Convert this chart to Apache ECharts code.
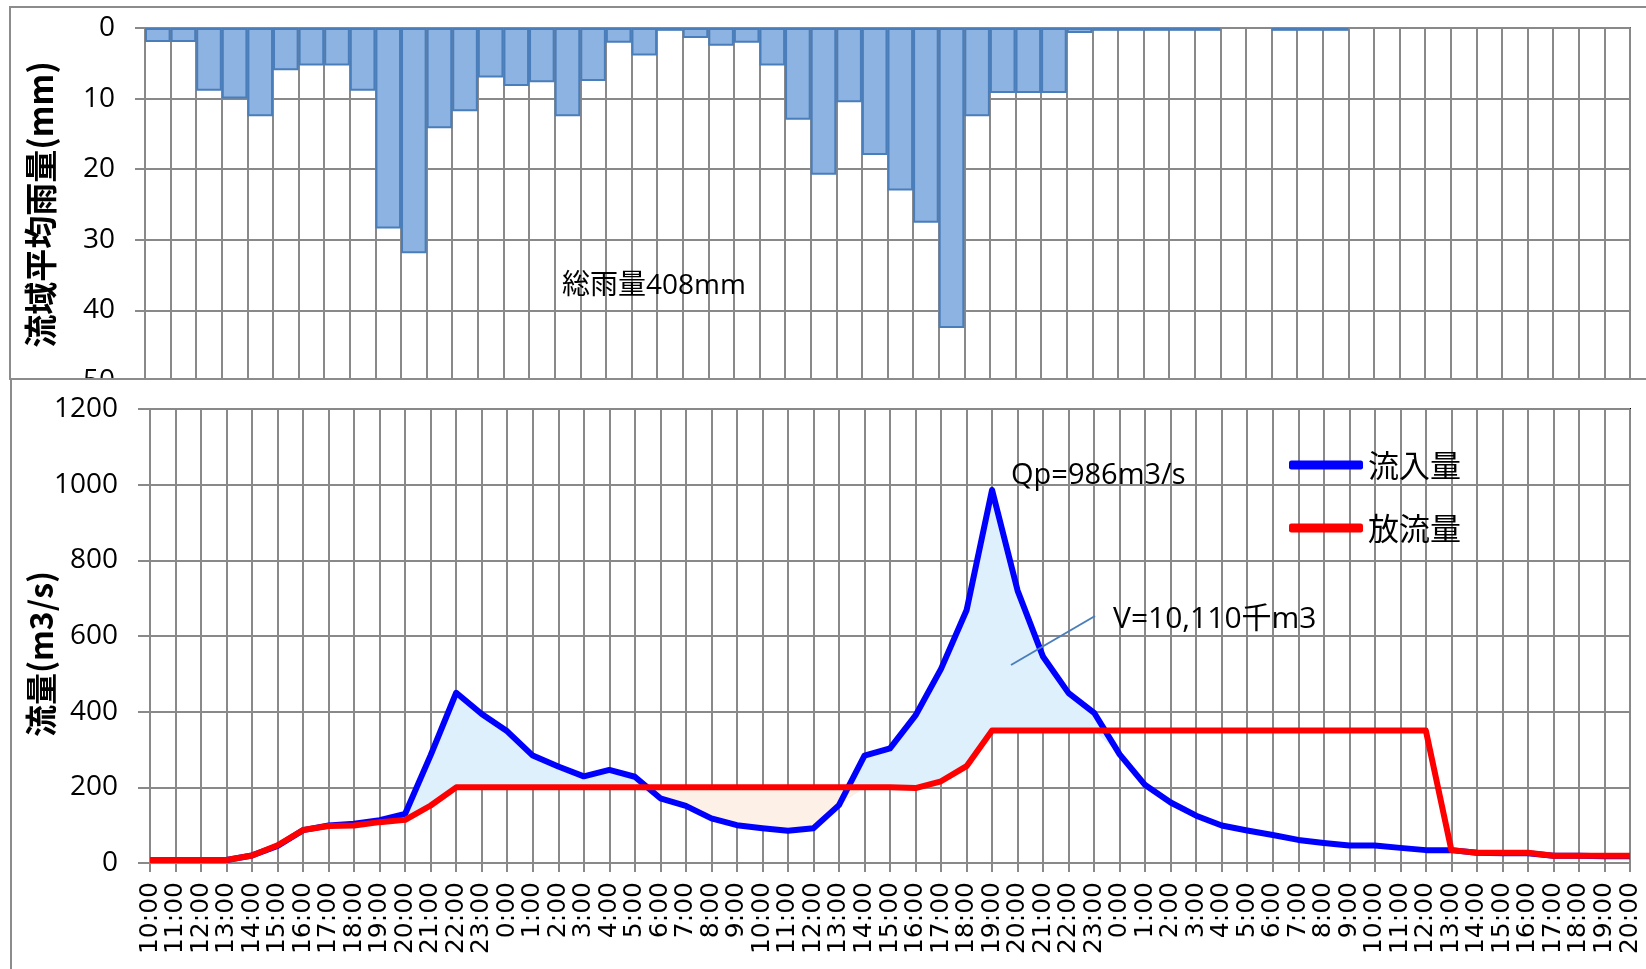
<!DOCTYPE html>
<html>
<head>
<meta charset="utf-8">
<script src="https://cdn.jsdelivr.net/npm/echarts@6/dist/echarts.min.js"></script>
<style>
html,body{margin:0;padding:0;background:#fff;}
#c{width:1646px;height:969px;}
</style>
</head>
<body>
<div id="c"></div>
<script>
// Time labels (59 hourly points)
const timeLabels = [
  '10:00','11:00','12:00','13:00','14:00','15:00','16:00','17:00','18:00','19:00','20:00','21:00','22:00','23:00',
  '0:00','1:00','2:00','3:00','4:00','5:00','6:00','7:00','8:00','9:00','10:00','11:00','12:00','13:00','14:00','15:00','16:00','17:00','18:00','19:00','20:00','21:00','22:00','23:00',
  '0:00','1:00','2:00','3:00','4:00','5:00','6:00','7:00','8:00','9:00','10:00','11:00','12:00','13:00','14:00','15:00','16:00','17:00','18:00','19:00','20:00'
];
// Basin average hourly rainfall (mm), 58 hourly intervals
const rainfall = [
  2.0, 2.0, 8.9, 10.0, 12.5, 6.0, 5.3, 5.3, 8.9, 28.4, 31.9, 14.2, 11.8, 7.0, 8.2, 7.7, 12.5, 7.5, 2.1,
  3.9, 0.4, 1.4, 2.5, 2.1, 5.3, 13.0, 20.8, 10.5, 18.0, 23.0, 27.6, 42.5, 12.5, 9.2, 9.2, 9.2, 0.7, 0.4,
  0.4, 0.4, 0.4, 0.4, 0, 0, 0.4, 0.4, 0.4,
  0, 0, 0, 0, 0, 0, 0, 0, 0, 0, 0
];
// Inflow (m3/s)
const inflow = [
  8, 8, 8, 8, 20, 45, 87, 99, 104, 113, 130, 285, 450, 394, 348, 284, 255, 229, 246, 228, 171, 151, 118, 100, 92, 85, 92, 153,
  284, 303, 390, 513, 668, 986, 720, 545, 449, 397, 287, 206, 160, 125, 99, 86, 74, 61, 53, 46, 46, 40, 34, 34,
  27, 26, 26, 19, 19, 18, 18
];
// Outflow (m3/s)
const outflow = [
  8, 8, 8, 8, 20, 47, 87, 98, 99, 108, 114, 152, 200, 200, 200, 200, 200, 200, 200, 200, 200, 200, 200, 200, 200, 200, 200, 200,
  200, 200, 198, 216, 256, 350, 350, 350, 350, 350, 350, 350, 350, 350, 350, 350, 350, 350, 350, 350, 350, 350, 350, 34,
  27, 27, 27, 19, 19, 19, 19
];
const legendNames = ['流入量', '放流量'];
// shaded release (outflow > inflow) period: first index .. last index
const releaseShade = [19, 28];

const NUM = "'Open Sans', 'Noto Sans CJK JP', sans-serif";
const JP = "'Noto Sans CJK JP', sans-serif";
const GRID = '#898989';

const base = inflow.map((v, i) => Math.min(v, outflow[i]));
const storeDiff = inflow.map((v, i) => Math.max(v - outflow[i], 0));
const releaseDiff = inflow.map((v, i) =>
  (i >= releaseShade[0] && i <= releaseShade[1]) ? Math.max(outflow[i] - v, 0) : 0);

const chart = echarts.init(document.getElementById('c'), null, {renderer: 'canvas'});
const option = {
  animation: false,
  backgroundColor: '#fff',
  textStyle: {fontFamily: NUM},
  grid: [
    {left: 145, right: 16, top: 28, bottom: 588, show: true, borderColor: '#000', borderWidth: 2, z: 0},
    {left: 150, right: 16, top: 409, bottom: 106, show: true, borderColor: '#000', borderWidth: 2, z: 3}
  ],
  xAxis: [
    {
      gridIndex: 0, type: 'category', data: timeLabels.slice(0, rainfall.length), position: 'top', boundaryGap: true,
      axisLine: {onZero: false, lineStyle: {color: GRID, width: 2}},
      axisTick: {show: false}, axisLabel: {show: false},
      splitLine: {show: true, interval: 0, lineStyle: {color: GRID, width: 2}},
      z: 0
    },
    {
      gridIndex: 1, type: 'category', data: timeLabels, boundaryGap: false,
      axisLine: {onZero: false, lineStyle: {color: GRID, width: 2}},
      axisTick: {show: true, interval: 0, length: 9, lineStyle: {color: GRID, width: 2}},
      axisLabel: {interval: 0, rotate: 90, margin: 19, fontSize: 25, fontFamily: 'DejaVu Sans', color: '#000'},
      splitLine: {show: true, interval: 0, lineStyle: {color: GRID, width: 2}},
      z: 3
    }
  ],
  yAxis: [
    {
      gridIndex: 0, type: 'value', inverse: true, min: 0, max: 50, interval: 10,
      name: '流域平均雨量(mm)', nameLocation: 'middle', nameGap: 88, nameMoveOverlap: false,
      nameTextStyle: {fontSize: 33, fontWeight: 'bold', fontFamily: JP, color: '#000'},
      axisLine: {show: true, lineStyle: {color: GRID, width: 2}},
      axisTick: {show: true, length: 10, lineStyle: {color: GRID, width: 2}},
      axisLabel: {fontSize: 28, margin: 30, color: '#000', fontFamily: NUM, formatter: v => String(v)},
      splitLine: {show: true, lineStyle: {color: GRID, width: 2}},
      z: 0
    },
    {
      gridIndex: 1, type: 'value', min: 0, max: 1200, interval: 200,
      name: '流量(m3/s)', nameLocation: 'middle', nameGap: 93, nameMoveOverlap: false,
      nameTextStyle: {fontSize: 32, fontWeight: 'bold', fontFamily: JP, color: '#000', padding: [0, 36, 0, 0]},
      axisLine: {show: true, lineStyle: {color: GRID, width: 2}},
      axisTick: {show: true, length: 12, lineStyle: {color: GRID, width: 2}},
      axisLabel: {fontSize: 28, margin: 32, color: '#000', fontFamily: NUM, formatter: v => String(v)},
      splitLine: {show: true, lineStyle: {color: GRID, width: 2}},
      z: 3
    }
  ],
  legend: {
    data: legendNames.map(n => ({name: n, icon: 'roundRect'})),
    orient: 'vertical', left: 1284, top: 443, itemWidth: 74, itemHeight: 9, itemGap: 29,
    selectedMode: false, z: 10,
    textStyle: {fontSize: 31, fontFamily: JP, color: '#000', lineHeight: 34}
  },
  series: [
    {
      type: 'bar', xAxisIndex: 0, yAxisIndex: 0, silent: true, z: 2,
      data: rainfall.map(v => (v > 0 ? v : '-')),
      barCategoryGap: '0%',
      itemStyle: {color: '#8db3e2', borderColor: '#4a7ebb', borderWidth: 2}
    },
    {
      type: 'line', xAxisIndex: 1, yAxisIndex: 1, silent: true, z: 3, stack: 'store',
      data: base, symbol: 'none', lineStyle: {opacity: 0}
    },
    {
      type: 'line', xAxisIndex: 1, yAxisIndex: 1, silent: true, z: 3, stack: 'store',
      data: storeDiff, symbol: 'none', lineStyle: {opacity: 0},
      areaStyle: {color: '#ddf0fb', opacity: 1}
    },
    {
      type: 'line', xAxisIndex: 1, yAxisIndex: 1, silent: true, z: 3, stack: 'release',
      data: base, symbol: 'none', lineStyle: {opacity: 0}
    },
    {
      type: 'line', xAxisIndex: 1, yAxisIndex: 1, silent: true, z: 3, stack: 'release',
      data: releaseDiff, symbol: 'none', lineStyle: {opacity: 0},
      areaStyle: {color: '#fdf0e6', opacity: 1}
    },
    {
      name: legendNames[0], type: 'line', xAxisIndex: 1, yAxisIndex: 1, z: 4,
      data: inflow, symbol: 'none',
      lineStyle: {color: '#0000ff', width: 6, join: 'round'}, itemStyle: {color: '#0000ff'}
    },
    {
      name: legendNames[1], type: 'line', xAxisIndex: 1, yAxisIndex: 1, z: 5,
      data: outflow, symbol: 'none',
      lineStyle: {color: '#ff0000', width: 6, join: 'round'}, itemStyle: {color: '#ff0000'}
    }
  ],
  graphic: [
    {type: 'rect', z: 0, silent: true, shape: {x: 10, y: 7, width: 1700, height: 372},
      style: {fill: 'none', stroke: '#8c8c8c', lineWidth: 2}},
    {type: 'rect', z: 1, silent: true, shape: {x: 11, y: 379, width: 1700, height: 700},
      style: {fill: '#fff', stroke: '#8c8c8c', lineWidth: 2}},
    {type: 'text', z: 10, x: 562, y: 286,
      style: {text: '総雨量408mm', fontSize: 28, fontFamily: NUM, fill: '#000', align: 'left', verticalAlign: 'middle'}},
    {type: 'text', z: 10, x: 1011, y: 476,
      style: {text: 'Qp=986m3/s', fontSize: 29, fontFamily: NUM, fill: '#000', align: 'left', verticalAlign: 'middle'}},
    {type: 'text', z: 10, x: 1113, y: 619,
      style: {text: 'V=10,110千m3', fontSize: 30, fontFamily: NUM, fill: '#000', align: 'left', verticalAlign: 'middle'}},
    {type: 'line', z: 10, silent: true, shape: {x1: 1011, y1: 665, x2: 1095, y2: 616},
      style: {stroke: '#4a7ebb', lineWidth: 2}}
  ]
};
chart.setOption(option);
</script>
</body>
</html>
